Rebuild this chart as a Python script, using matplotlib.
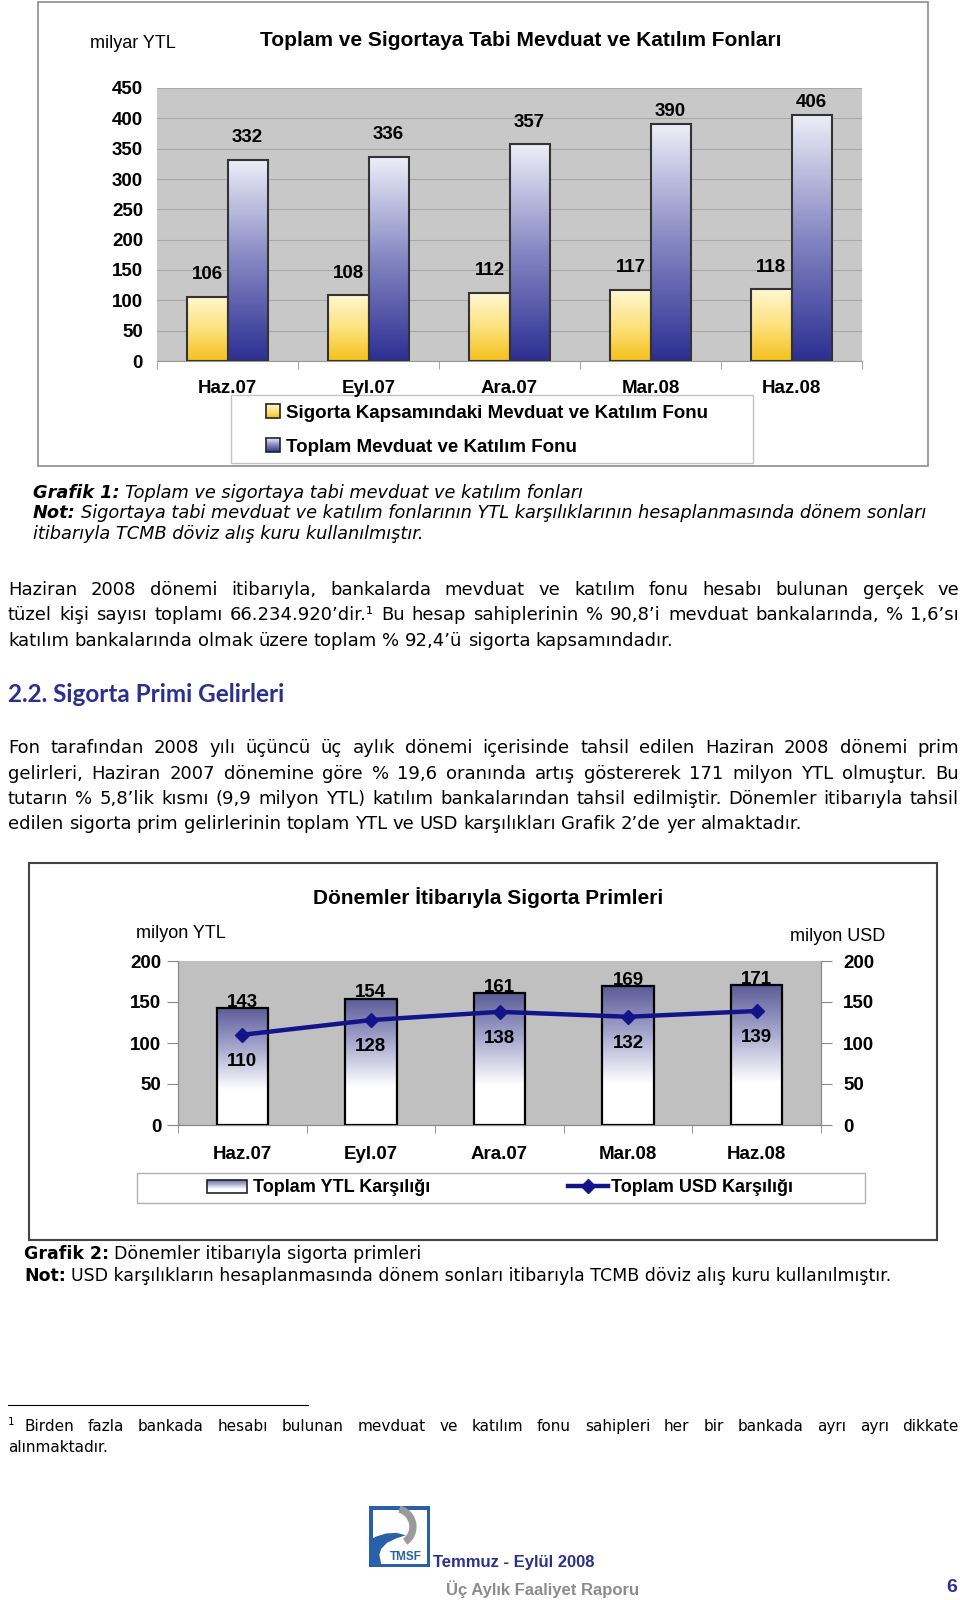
import matplotlib
matplotlib.use("Agg")
import matplotlib.pyplot as plt
import numpy as np
from matplotlib.colors import LinearSegmentedColormap
from matplotlib.patches import Rectangle, Patch, Wedge, Polygon
from matplotlib.legend_handler import HandlerBase
from matplotlib.lines import Line2D

W, H = 960, 1600

# Grafik 1 (milyar YTL)
periods = ["Haz.07", "Eyl.07", "Ara.07", "Mar.08", "Haz.08"]
insured = [106, 108, 112, 117, 118]
total = [332, 336, 357, 390, 406]

# Grafik 2 (milyon YTL / milyon USD)
prem_ytl = [143, 154, 161, 169, 171]
prem_usd = [110, 128, 138, 132, 139]

CHART_FONT = ["Liberation Sans", "DejaVu Sans"]
BODY_FONT = ["DejaVu Sans"]
HEAD_FONT = ["Lato", "DejaVu Sans"]
NAVY = "#2b2f8f"
LOGO_BLUE = "#2a60aa"

plt.rcParams["font.family"] = CHART_FONT

yellow = LinearSegmentedColormap.from_list("yel", ["#f5c01c", "#fde27e", "#fff7d2"])
blue = LinearSegmentedColormap.from_list("blu", ["#2c2f92", "#8486c2", "#eeeef8"])
slate = LinearSegmentedColormap.from_list(
    "sl", [(0, "white"), (0.3, "white"), (0.65, "#a9a9cf"), (1, "#5b5b97")])

fig = plt.figure(figsize=(W / 100, H / 100), dpi=100)


def box(x0, y0, x1, y1):
    return [x0 / W, 1 - y1 / H, (x1 - x0) / W, (y1 - y0) / H]


def fx(x):
    return x / W


def fy(y):
    return 1 - y / H


def fill_gradient(ax, bars, cmap):
    grad = np.linspace(0, 1, 256).reshape(-1, 1)
    for b in bars:
        x, y, w, h = b.get_x(), b.get_y(), b.get_width(), b.get_height()
        b.set_facecolor("none")
        im = ax.imshow(grad, cmap=cmap, origin="lower", aspect="auto",
                       extent=(x, x + w, y, y + h), zorder=b.get_zorder() - 0.1)
        im.set_clip_path(b)


class GradHandler(HandlerBase):
    def __init__(self, cmap, **kw):
        super().__init__(**kw)
        self.cmap = cmap

    def create_artists(self, legend, orig_handle, xdescent, ydescent,
                       width, height, fontsize, trans):
        n = 14
        arts = []
        for i in range(n):
            arts.append(Rectangle((-xdescent, -ydescent + height * i / n), width,
                                  height / n + 0.02, facecolor=self.cmap((i + 0.5) / n),
                                  edgecolor="none", transform=trans))
        arts.append(Rectangle((-xdescent, -ydescent), width, height, facecolor="none",
                              edgecolor="#222222", lw=1.2, transform=trans))
        return arts


def frame(x0, y0, x1, y1, ec, lw):
    fig.patches.append(Rectangle((fx(x0), fy(y1)), (x1 - x0) / W, (y1 - y0) / H,
                                 transform=fig.transFigure, facecolor="white",
                                 edgecolor=ec, lw=lw, zorder=-5))


# ---------------- Grafik 1 ----------------
frame(38, 2, 928, 466, "#8c8c8c", 1.2)
fig.text(fx(90), fy(43), "milyar YTL", fontsize=13, va="center")
fig.text(fx(521), fy(41), "Toplam ve Sigortaya Tabi Mevduat ve Katılım Fonları",
         fontsize=15, fontweight="bold", ha="center", va="center")

ax1 = fig.add_axes(box(157, 88, 862, 361))
x = np.arange(len(periods))
bw = 0.284
b_ins = ax1.bar(x - bw / 2, insured, bw, edgecolor="#333333", lw=1.5, zorder=3)
b_tot = ax1.bar(x + bw / 2, total, bw, edgecolor="#333333", lw=1.5, zorder=3)
fill_gradient(ax1, b_ins, yellow)
fill_gradient(ax1, b_tot, blue)
for bars, vals in ((b_ins, insured), (b_tot, total)):
    for b, v in zip(bars, vals):
        # labels near the top of the plot sit a little closer to the bar
        off = 16 if v < 380 else 9
        ax1.annotate(str(v), (b.get_x() + b.get_width() / 2, v), xytext=(0, off),
                     textcoords="offset points", ha="center", va="center",
                     fontsize=13.5, fontweight="bold")
ax1.set_xlim(-0.5, len(periods) - 0.5)
ax1.set_ylim(0, 450)
ax1.set_facecolor("#c8c8c8")
ax1.set_axisbelow(True)
ax1.grid(axis="y", color="#a8a8a8", lw=0.8)
ax1.set_yticks(range(0, 451, 50), labels=[str(v) for v in range(0, 451, 50)],
               fontsize=13.5, fontweight="bold")
ax1.set_xticks(x, labels=periods, fontsize=13.5, fontweight="bold")
ax1.set_xticks(np.arange(-0.5, len(periods), 1), minor=True)
ax1.tick_params(axis="y", length=0, pad=10)
ax1.tick_params(axis="x", which="major", length=0, pad=14)
ax1.tick_params(axis="x", which="minor", length=6, color="#999999")
for s in ("left", "top", "right"):
    ax1.spines[s].set_visible(False)
ax1.spines["bottom"].set_color("#999999")

frame(231, 395, 753, 463, "#c4c4c4", 1.0)
h_ins, h_tot = Patch(), Patch()
fig.legend([h_ins, h_tot],
           ["Sigorta Kapsamındaki Mevduat ve Katılım Fonu", "Toplam Mevduat ve Katılım Fonu"],
           handler_map={h_ins: GradHandler(yellow), h_tot: GradHandler(blue)},
           loc="center left", bbox_to_anchor=(fx(266), fy(430)), frameon=False,
           borderpad=0, borderaxespad=0, handlelength=0.75, handleheight=0.75,
           handletextpad=0.3, labelspacing=0.9,
           prop={"size": 13.5, "weight": "bold", "family": CHART_FONT})

# ---------------- body text ----------------
SPACE = 0.3


def runs(segments, x0, yb, size, family=BODY_FONT, color="black"):
    r = fig.canvas.get_renderer()
    xpos = x0
    for txt, kw in segments:
        t = fig.text(fx(xpos), fy(yb), txt, fontsize=size, family=family,
                     color=color, va="baseline", **kw)
        xpos += t.get_window_extent(r).width + SPACE * size * 100 / 72


def justify(text, x0, x1, yb, size, last=False, family=BODY_FONT, **kw):
    r = fig.canvas.get_renderer()
    words = text.split()
    arts = [fig.text(fx(x0), fy(yb), w, fontsize=size, family=family,
                     va="baseline", **kw) for w in words]
    widths = [a.get_window_extent(r).width for a in arts]
    if last or len(words) < 2:
        gap = SPACE * size * 100 / 72
    else:
        gap = (x1 - x0 - sum(widths)) / (len(words) - 1)
    xpos = x0
    for a, w in zip(arts, widths):
        a.set_x(fx(xpos))
        xpos += w + gap


cap1 = 12.8
runs([("Grafik 1:", {"fontweight": "bold", "fontstyle": "italic"}),
      ("Toplam ve sigortaya tabi mevduat ve katılım fonları", {"fontstyle": "italic"})],
     33, 498, cap1)
runs([("Not:", {"fontweight": "bold", "fontstyle": "italic"}),
      ("Sigortaya tabi mevduat ve katılım fonlarının YTL karşılıklarının hesaplanmasında dönem sonları",
       {"fontstyle": "italic"})], 33, 518, cap1)
runs([("itibarıyla TCMB döviz alış kuru kullanılmıştır.", {"fontstyle": "italic"})],
     33, 539, cap1)

body = 13
para1 = ["Haziran 2008 dönemi itibarıyla, bankalarda mevduat ve katılım fonu hesabı bulunan gerçek ve",
         "tüzel kişi sayısı toplamı 66.234.920’dir.¹ Bu hesap sahiplerinin % 90,8’i mevduat bankalarında, % 1,6’sı",
         "katılım bankalarında olmak üzere toplam % 92,4’ü sigorta kapsamındadır."]
for i, (line, yb) in enumerate(zip(para1, [595, 620, 646])):
    justify(line, 8, 959, yb, body, last=(i == len(para1) - 1))

fig.text(fx(8), fy(702), "2.2. Sigorta Primi Gelirleri", fontsize=17.5, fontweight="bold",
         family=HEAD_FONT, color=NAVY, va="baseline")

para2 = ["Fon tarafından 2008 yılı üçüncü üç aylık dönemi içerisinde tahsil edilen Haziran 2008 dönemi prim",
         "gelirleri, Haziran 2007 dönemine göre % 19,6 oranında artış göstererek 171 milyon YTL olmuştur. Bu",
         "tutarın % 5,8’lik kısmı (9,9 milyon YTL) katılım bankalarından tahsil edilmiştir. Dönemler itibarıyla tahsil",
         "edilen sigorta prim gelirlerinin toplam YTL ve USD karşılıkları Grafik 2’de yer almaktadır."]
for i, (line, yb) in enumerate(zip(para2, [753, 779, 804, 829])):
    justify(line, 8, 959, yb, body, last=(i == len(para2) - 1))

# ---------------- Grafik 2 ----------------
frame(29, 863, 937, 1240, "#444444", 1.5)
fig.text(fx(488), fy(898), "Dönemler İtibarıyla Sigorta Primleri", fontsize=15,
         fontweight="bold", ha="center", va="center")
fig.text(fx(136), fy(933), "milyon YTL", fontsize=13, va="center")
fig.text(fx(790), fy(937), "milyon USD", fontsize=13, va="center")

ax2 = fig.add_axes(box(178, 961, 821, 1125))
xb = np.arange(len(periods))
b_ytl = ax2.bar(xb, prem_ytl, 0.4, edgecolor="black", lw=1.6, zorder=3)
fill_gradient(ax2, b_ytl, slate)
ax2.bar_label(b_ytl, padding=-2, fontsize=13.5, fontweight="bold")
ax2.set_xlim(-0.5, len(periods) - 0.5)
ax2.set_ylim(0, 200)
ax2.set_facecolor("#c0c0c0")
ax2.set_yticks(range(0, 201, 50), labels=[str(v) for v in range(0, 201, 50)],
               fontsize=13.5, fontweight="bold")
ax2.set_xticks(xb, labels=periods, fontsize=13.5, fontweight="bold")
ax2.set_xticks(np.arange(-0.5, len(periods), 1), minor=True)
ax2.tick_params(axis="y", length=8, color="#888888", pad=4)
ax2.tick_params(axis="x", which="major", length=0, pad=15)
ax2.tick_params(axis="x", which="minor", length=6, color="#888888")
ax2.spines["top"].set_visible(False)
for s in ("left", "right", "bottom"):
    ax2.spines[s].set_color("#888888")

ax2r = ax2.twinx()
ax2r.set_ylim(0, 200)
usd_line, = ax2r.plot(xb, prem_usd, color="#14148a", lw=3.2, marker="D", ms=7, zorder=4)
for xi, v in zip(xb, prem_usd):
    ax2r.annotate(str(v), (xi, v), xytext=(0, -19), textcoords="offset points",
                  ha="center", va="center", fontsize=13.5, fontweight="bold")
ax2r.set_yticks(range(0, 201, 50), labels=[str(v) for v in range(0, 201, 50)],
                fontsize=13.5, fontweight="bold")
ax2r.tick_params(axis="y", length=8, color="#888888", pad=8)
ax2r.spines["top"].set_visible(False)
for s in ("left", "right", "bottom"):
    ax2r.spines[s].set_color("#888888")

frame(137, 1173, 865, 1203, "#b0b0b0", 1.0)
h_ytl = Patch()
fig.legend([h_ytl], ["Toplam YTL Karşılığı"], handler_map={h_ytl: GradHandler(slate)},
           loc="center left", bbox_to_anchor=(fx(207), fy(1188)), frameon=False,
           borderpad=0, borderaxespad=0, handlelength=2.2, handleheight=0.75,
           handletextpad=0.35, prop={"size": 13, "weight": "bold", "family": CHART_FONT})
fig.legend([Line2D([], [], color="#14148a", lw=3.2, marker="D", ms=7)],
           ["Toplam USD Karşılığı"], loc="center left",
           bbox_to_anchor=(fx(568), fy(1188)), frameon=False, borderpad=0,
           borderaxespad=0, handlelength=2.2, handletextpad=0.2,
           prop={"size": 13, "weight": "bold", "family": CHART_FONT})

cap2 = 12.5
runs([("Grafik 2:", {"fontweight": "bold"}),
      ("Dönemler itibarıyla sigorta primleri", {})], 24, 1259, cap2)
runs([("Not:", {"fontweight": "bold"}),
      ("USD karşılıkların hesaplanmasında dönem sonları itibarıyla TCMB döviz alış kuru kullanılmıştır.", {})],
     24, 1281, cap2)

# ---------------- footnote ----------------
fig.add_artist(Line2D([fx(8), fx(308)], [fy(1405), fy(1405)], color="black", lw=0.8,
                      transform=fig.transFigure))
fig.text(fx(8), fy(1425), "1", fontsize=7.5, family=BODY_FONT, va="baseline")
justify("Birden fazla bankada hesabı bulunan mevduat ve katılım fonu sahipleri her bir bankada ayrı ayrı dikkate",
        24, 959, 1431, 11)
justify("alınmaktadır.", 8, 959, 1452, 11, last=True)

# ---------------- footer ----------------
lax = fig.add_axes(box(369, 1506, 430, 1567))
lax.set_xlim(0, 1)
lax.set_ylim(0, 1)
lax.axis("off")
lax.add_patch(Rectangle((0, 0), 1, 1, facecolor=LOGO_BLUE, edgecolor="none"))
lax.add_patch(Rectangle((0.07, 0.05), 0.88, 0.88, facecolor="white", edgecolor="none"))
lax.add_patch(Wedge((0.42, 0.66), 0.36, -55, 75, width=0.12, facecolor="#9a9a9a"))
lax.add_patch(Polygon([(0.0, 0.0), (0.0, 0.44), (0.12, 0.5), (0.28, 0.55), (0.45, 0.56),
                       (0.6, 0.52), (0.45, 0.47), (0.3, 0.4), (0.2, 0.3), (0.17, 0.2),
                       (0.2, 0.05), (0.0, 0.05)],
                      facecolor=LOGO_BLUE, edgecolor="none"))
lax.add_patch(Rectangle((0.0, 0.0), 1, 0.05, facecolor=LOGO_BLUE, edgecolor="none"))
lax.text(0.6, 0.17, "TMSF", color=LOGO_BLUE, fontsize=8.5, fontweight="bold",
         ha="center", va="center")

fig.text(fx(433), fy(1563), "Temmuz - Eylül 2008", fontsize=12, fontweight="bold",
         color=NAVY, va="center")
fig.text(fx(446), fy(1589), "Üç Aylık Faaliyet Raporu", fontsize=12, fontweight="bold",
         color="#8c8c8c", va="center")
fig.text(fx(952), fy(1588), "6", fontsize=14, fontweight="bold", color=NAVY,
         ha="center", va="center")

fig.savefig("out.png", dpi=100)
